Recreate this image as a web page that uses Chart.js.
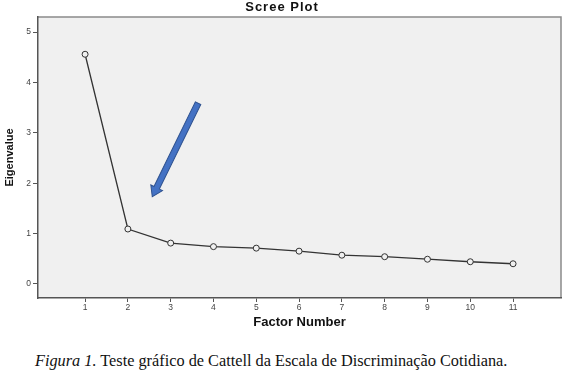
<!DOCTYPE html>
<html>
<head>
<meta charset="utf-8">
<script src="https://cdn.jsdelivr.net/npm/chart.js@4"></script>
<style>
  html, body { margin: 0; padding: 0; background: #fff; }
  #wrap { position: relative; width: 566px; height: 340px; }
  #caption { position: absolute; left: 35px; top: 351px; font-family: "Liberation Serif", "Times New Roman", serif; font-size: 16.3px; color: #111; white-space: nowrap; }
</style>
</head>
<body>
<div id="wrap"><canvas id="c" width="566" height="340"></canvas></div>
<div id="caption"><i>Figura 1.</i> Teste gráfico de Cattell da Escala de Discriminação Cotidiana.</div>
<script>
const factors = [1, 2, 3, 4, 5, 6, 7, 8, 9, 10, 11];
const eigenvalues = [4.56, 1.09, 0.81, 0.74, 0.71, 0.65, 0.57, 0.54, 0.49, 0.44, 0.40];
const yTicks = [0, 1, 2, 3, 4, 5];
const arrowFrom = [3.64, 3.59];
const arrowTo = [2.57, 1.73];
const chartTitle = 'Scree Plot';
const xTitle = 'Factor Number';
const yTitle = 'Eigenvalue';

const points = factors.map((f, i) => ({ x: f, y: eigenvalues[i] }));

const framePlugin = {
  id: 'frame',
  beforeDraw(chart) {
    const { ctx, chartArea: a } = chart;
    ctx.save();
    ctx.fillStyle = '#f0f0f0';
    ctx.fillRect(a.left, a.top, a.right - a.left, a.bottom - a.top);
    ctx.strokeStyle = '#8a8a8a';
    ctx.lineWidth = 1.5;
    ctx.beginPath();
    ctx.moveTo(a.left, a.top);
    ctx.lineTo(a.right, a.top);
    ctx.lineTo(a.right, a.bottom);
    ctx.stroke();
    ctx.restore();
  },
  afterDraw(chart) {
    const { ctx } = chart;
    const xs = chart.scales.x, ys = chart.scales.y;
    // title
    ctx.save();
    ctx.fillStyle = '#111';
    ctx.font = 'bold 13px "Liberation Sans", Arial, sans-serif';
    try { ctx.letterSpacing = '1px'; } catch (e) {}
    ctx.textAlign = 'center';
    ctx.textBaseline = 'middle';
    ctx.fillText(chartTitle, 282, 7);
    try { ctx.letterSpacing = '0px'; } catch (e) {}
    // arrow
    const x1 = xs.getPixelForValue(arrowFrom[0]), y1 = ys.getPixelForValue(arrowFrom[1]);
    const x2 = xs.getPixelForValue(arrowTo[0]), y2 = ys.getPixelForValue(arrowTo[1]);
    const ang = Math.atan2(y2 - y1, x2 - x1);
    const len = Math.hypot(x2 - x1, y2 - y1);
    ctx.translate(x1, y1);
    ctx.rotate(ang);
    const hw = 3, headLen = 10, headW = 6.5;
    ctx.beginPath();
    ctx.moveTo(0, -hw);
    ctx.lineTo(len - headLen, -hw);
    ctx.lineTo(len - headLen, -headW);
    ctx.lineTo(len, 0);
    ctx.lineTo(len - headLen, headW);
    ctx.lineTo(len - headLen, hw);
    ctx.lineTo(0, hw);
    ctx.closePath();
    ctx.fillStyle = '#4472c4';
    ctx.fill();
    ctx.strokeStyle = '#2f528f';
    ctx.lineWidth = 1;
    ctx.stroke();
    ctx.restore();
  }
};

new Chart(document.getElementById('c'), {
  type: 'line',
  data: {
    datasets: [{
      data: points,
      borderColor: '#333',
      borderWidth: 1.3,
      pointRadius: 3,
      pointBorderWidth: 1,
      pointBackgroundColor: '#f0f0f0',
      pointBorderColor: '#333',
      tension: 0
    }]
  },
  options: {
    responsive: false,
    animation: false,
    layout: { padding: { top: 17, right: 5, left: 0, bottom: 0 } },
    plugins: { legend: { display: false }, tooltip: { enabled: false } },
    scales: {
      x: {
        type: 'linear',
        min: -0.1,
        max: 12.12,
        afterBuildTicks(s) { s.ticks = factors.map(v => ({ value: v })); },
        afterFit(s) { s.height = 42; },
        grid: { drawOnChartArea: false, drawTicks: true, tickLength: 4, color: '#555', lineWidth: 1 },
        border: { display: true, color: '#555', width: 1.5 },
        ticks: { color: '#444', font: { family: '"Liberation Sans", Arial, sans-serif', size: 8.5 }, padding: 1, maxRotation: 0, autoSkip: false },
        title: { display: true, text: xTitle, color: '#111', font: { family: '"Liberation Sans", Arial, sans-serif', size: 13, weight: 'bold' }, padding: { top: 0, bottom: 10 } }
      },
      y: {
        min: -0.28,
        max: 5.3,
        afterBuildTicks(s) { s.ticks = yTicks.map(v => ({ value: v })); },
        afterFit(s) { s.width = 38; },
        grid: { drawOnChartArea: false, drawTicks: true, tickLength: 5, color: '#555', lineWidth: 1 },
        border: { display: true, color: '#555', width: 1.5 },
        ticks: { color: '#444', font: { family: '"Liberation Sans", Arial, sans-serif', size: 8.5 }, padding: 2 },
        title: { display: true, text: yTitle, color: '#111', font: { family: '"Liberation Sans", Arial, sans-serif', size: 11, weight: 'bold' }, padding: { top: 3, bottom: 0 } }
      }
    }
  },
  plugins: [framePlugin]
});
</script>
</body>
</html>
